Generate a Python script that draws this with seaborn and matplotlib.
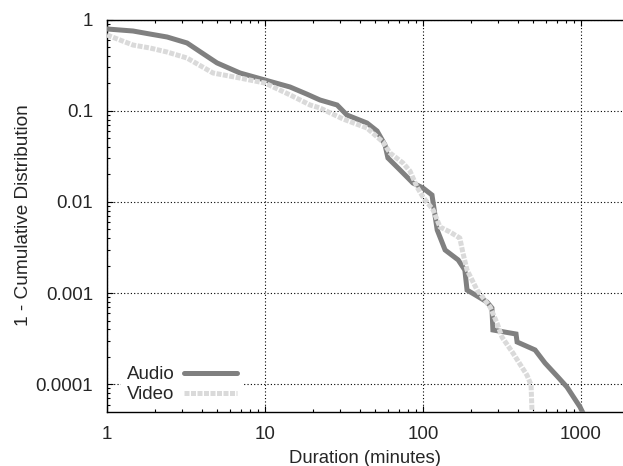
import matplotlib
matplotlib.use("Agg")
import matplotlib.pyplot as plt
import seaborn as sns
import pandas as pd
from matplotlib.ticker import LogLocator, NullFormatter, FixedLocator, FixedFormatter

audio_x = [1.0, 1.46, 1.87, 2.40, 3.21, 3.88, 4.97, 6.95, 10, 14.4, 18.4, 22.3, 28.6, 33.0,
           44.2, 51.2, 57.5, 60.0, 71.5, 86.4, 100, 114, 117, 123, 138, 167, 184, 190, 220,
           254, 273, 277, 388, 394, 512, 592, 715, 815, 986, 1030]
audio_y = [0.787, 0.748, 0.693, 0.643, 0.553, 0.444, 0.334, 0.259, 0.217, 0.182, 0.152, 0.131,
           0.1155, 0.0897, 0.0733, 0.0599, 0.0421, 0.0303, 0.0224, 0.0161, 0.0142, 0.0119,
           0.0088, 0.00492, 0.00297, 0.00231, 0.00179, 0.00108, 0.000929, 0.000799, 0.000687,
           0.000394, 0.000356, 0.000291, 0.000238, 0.000171, 0.000120, 0.0000933, 0.0000564,
           0.0000484]
video_x = [1.0, 1.46, 1.87, 2.40, 3.21, 4.69, 6.95, 10, 14.4, 19.3, 22.3, 31.2, 44.2, 55.8,
           61.8, 74.7, 82.7, 91.6, 100, 116, 128, 148, 171, 179, 190, 220, 266, 294, 316, 371,
           455, 483, 490]
video_y = [0.676, 0.525, 0.487, 0.440, 0.378, 0.259, 0.228, 0.201, 0.149, 0.1155, 0.107,
           0.0811, 0.0646, 0.0454, 0.0344, 0.0267, 0.0218, 0.0146, 0.0113, 0.00815, 0.00531,
           0.00468, 0.00402, 0.00275, 0.00179, 0.00108, 0.000704, 0.000470, 0.000330,
           0.000220, 0.000126, 0.0000982, 0.0000484]
series_names = ["Audio", "Video"]
x_ticks = [1, 10, 100, 1000]
x_tick_labels = ["1", "10", "100", "1000"]
y_ticks = [0.0001, 0.001, 0.01, 0.1, 1]
y_tick_labels = ["0.0001", "0.001", "0.01", "0.1", "1"]

sns.set_style("white")
plt.rcParams["font.family"] = ["Liberation Sans", "DejaVu Sans"]

df = pd.concat([
    pd.DataFrame({"x": audio_x, "y": audio_y, "s": series_names[0]}),
    pd.DataFrame({"x": video_x, "y": video_y, "s": series_names[1]}),
])

fig = plt.figure(figsize=(6.23, 4.66), dpi=100)
ax = fig.add_axes([107 / 623, 1 - 411.7 / 466, 1 - 107 / 623, (411.7 - 19.5) / 466])

colors = {"Audio": "#808080", "Video": "#dadada"}
for name in series_names:
    sub = df[df["s"] == name]
    sns.lineplot(data=sub, x="x", y="y", ax=ax, color=colors[name], sort=False,
                 estimator=None, label=name, linewidth=3.6, zorder=3)
lines = ax.get_lines()
lines[1].set_dashes([1.0, 0.3])
lines[1].set_dash_capstyle("butt")
for ln in lines:
    ln.set_solid_joinstyle("miter")

ax.set_xscale("log")
ax.set_yscale("log")
ax.set_xlim(1, 10 ** (516 / 158))
ax.set_ylim(10 ** (-392.2 / 91.2), 1)

ax.xaxis.set_major_locator(FixedLocator(x_ticks))
ax.xaxis.set_major_formatter(FixedFormatter(x_tick_labels))
ax.yaxis.set_major_locator(FixedLocator(y_ticks))
ax.yaxis.set_major_formatter(FixedFormatter(y_tick_labels))
ax.xaxis.set_minor_locator(LogLocator(base=10, subs=range(2, 10), numticks=20))
ax.yaxis.set_minor_locator(LogLocator(base=10, subs=range(2, 10), numticks=20))
ax.xaxis.set_minor_formatter(NullFormatter())
ax.yaxis.set_minor_formatter(NullFormatter())

ax.tick_params(which="both", direction="in", top=True, right=False, bottom=True, left=True,
               color="black", width=0.8)
ax.tick_params(which="major", length=4.5, labelsize=13.5)
ax.tick_params(axis="x", which="major", pad=10)
ax.tick_params(axis="y", which="major", pad=10)
ax.tick_params(which="minor", length=2.5)

ax.grid(True, which="major", color="black", linestyle=(0, (1, 2)), linewidth=0.8)
for side in ["left", "bottom", "top"]:
    ax.spines[side].set_visible(True)
    ax.spines[side].set_color("black")
    ax.spines[side].set_linewidth(1.0)
ax.spines["right"].set_visible(False)

ax.set_xlabel("Duration (minutes)", fontsize=13.3, labelpad=5.5)
ax.set_ylabel("1 - Cumulative Distribution", fontsize=13.7, labelpad=2.5)

leg = ax.legend(loc="lower left", bbox_to_anchor=(14 / 516, 3 / 392), frameon=True,
                fancybox=False, framealpha=1, facecolor="white", edgecolor="none",
                markerfirst=False, fontsize=13.5, handlelength=2.8, handletextpad=0.53,
                labelspacing=0.15, borderpad=0.3, borderaxespad=0.0)
leg.set_zorder(5)

fig.savefig("out.png", dpi=100)
